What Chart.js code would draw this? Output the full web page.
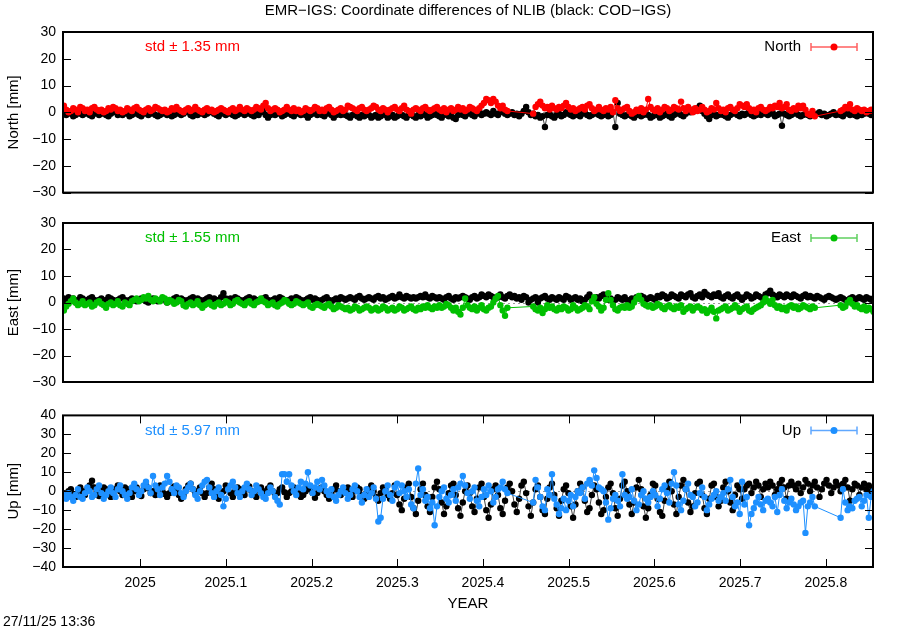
<!DOCTYPE html>
<html>
<head>
<meta charset="utf-8">
<script src="https://cdn.jsdelivr.net/npm/chart.js@4.4.1/dist/chart.umd.min.js"></script>
<style>
  body { margin: 0; background: #fff; width: 900px; height: 630px; position: relative; overflow: hidden;
         font-family: "Liberation Sans", Arial, sans-serif; }
  canvas { position: absolute; left: 0; }
  #stamp { position: absolute; left: 3px; top: 613px; font-size: 14px; color: #000; }
</style>
</head>
<body>
<canvas id="north" width="900" height="208" style="top:0px"></canvas>
<canvas id="east" width="900" height="200" style="top:200px"></canvas>
<canvas id="up" width="900" height="230" style="top:400px"></canvas>
<div id="stamp">27/11/25 13:36</div>
<script>
// first day of the series (decimal year), one value per day
const firstDay = 2024.911;
const daysPerYear = 365.25;
const xTicks = [2025, 2025.1, 2025.2, 2025.3, 2025.4, 2025.5, 2025.6, 2025.7, 2025.8];
const yTicksNE = [-30, -20, -10, 0, 10, 20, 30];
const yTicksUp = [-40, -30, -20, -10, 0, 10, 20, 30, 40];
const stdValues = ['1.35', '1.55', '5.97'];

// North [mm], black: COD-IGS
const northCOD = [
  -0.5,-1,0,-0.5,-1.5,-1,0.5,-0.5,-1,-0.5,
  0,-1,-1.5,-0.5,0.5,-1,-0.5,0,-1,-1.5,
  -0.5,0,0.5,-1,-0.5,-1,0,-0.5,-1.5,-1,
  -0.5,0,-1,-1.5,-0.5,0,-1,-0.5,0.5,-1,
  -1.5,-1,-0.5,0,-1,-0.5,-1.5,-1,0,-0.5,
  -1,-0.5,0.5,0,-1,-1.5,-0.5,-1,0,-0.5,
  -1,-0.5,0,0.5,-0.5,-1,-1.5,-0.5,0,-1,
  -0.5,0,-1,-1.5,-1,-0.5,0,-1,-0.5,0,
  -1,-1.5,-0.5,-1,0,0.5,-1,-2,-1,-0.5,
  -1,0,-0.5,-1.5,-1,-0.5,0,-1,-1.5,-0.5,
  0,-1,-0.5,-1,-2,-1,-0.5,0,-1,-0.5,
  -1,-1.5,-0.5,0,-1,-2,-1,-0.5,-1,0,
  -1,-1.5,-2,-1,-0.5,-1.5,-2,-1,-1.5,-0.5,
  -1,-2,-1.5,-1,-2,-1.5,-0.5,-1,-2,-1.5,
  -1,-2,-1.5,-0.5,-1,-1.5,-2,-1,-0.5,-1.5,
  -2,-1,-1.5,-0.5,-1,-2,-1.5,-1,-0.5,-1,
  -1.5,-2,-1,-0.5,-1.5,-1,-2,-2.5,-1,-0.5,
  -1,-1.5,-0.5,0,-1,-1.5,-0.5,0.5,-1,-0.5,
  0,-0.5,-1,0.5,-0.5,-1,0,1,-0.5,-1,
  -0.5,0,-1,-0.5,-1.5,-0.5,0.5,2,0,-1,
  -0.5,-1.5,-1,-2,-1.5,-5.5,-1,-0.5,-1.5,-2,
  -1,-0.5,-1.5,-1,0,-0.5,-1,-1.5,-0.5,-1,
  -1.5,-0.5,0,-1,-1.5,-1,-0.5,0,-1,-1.5,
  -1,-0.5,-1.5,-1,0,-5.5,3.5,-0.5,-1,-1.5,
  -1,-0.5,-1.5,-2,-1,-0.5,-1.5,-1,-0.5,-1,
  -2,-1.5,-0.5,-1,-2,-1.5,-1,-0.5,-1.5,-2,
  -1,-0.5,0,-1,-1.5,-0.5,0.5,0,1,0.5,
  1.5,2.5,0.5,-0.5,-1.5,-2.5,-1,-0.5,-1.5,-1,
  -0.5,-1,-1.5,-2,-1,-0.5,0,-1,-1.5,-0.5,
  -1,-0.5,0,-1,-1.5,-1,-0.5,-1,0,-0.5,
  -1,-0.5,0,-1.5,-1,-0.5,-5,-0.5,-1,-1.5,
  -1,-0.5,0,-1,-1.5,-1,-0.5,-1,-1.5,-0.5,
  -1,-0.5,0,-1,-0.5,-1.5,-1,-0.5,0,-1,
  -0.5,-1,-1.5,-0.5,0,-1,-0.5,-1,-1.5,-0.5,
  -1,-0.5,0,-0.5,-1,-0.5
];
// North [mm], red: EMR-IGS (null = no solution)
const northEMR = [
  2.5,1,0,0.5,1.5,1,0,2,1.5,0.5,
  1,0,1.5,2,1,0.5,1,0,0.5,1.5,
  1,2,1.5,0.5,1,0,0.5,1.5,1,0.5,
  1.5,2,1,0.5,0,1,1.5,0.5,1,2,
  1.5,1,0.5,1,0,0.5,1.5,1,2,1,
  0.5,0,1,1.5,0.5,1,2,1,0.5,0,
  1,1.5,0.5,1,0,0.5,1,1.5,1,0.5,
  0,1,1.5,0.5,1,2,1,0.5,1.5,1,
  0.5,1,2,1.5,1,2.5,3.5,1.5,0.5,1,
  1.5,1,0,0.5,1,2,1,0.5,1.5,0.5,
  1,0,0.5,1.5,1,0.5,1,2,1.5,0.5,
  1,0.5,1.5,2,1,0,0.5,1,1.5,0.5,
  1,2.5,2,1.5,1,0.5,1.5,2,1,0.5,
  1,1.5,2.5,2,1,0.5,1.5,1,0,1,
  1.5,2,1,0.5,1.5,2.5,1,0.5,-0.5,1,
  1.5,1,0.5,1.5,2,1,0.5,1,1.5,2,
  1,0.5,1.5,0,1,1.5,0.5,1,2,1,
  1.5,0.5,1,2,1.5,1,0.5,1.5,2.5,3.5,
  5,4.5,3.5,5,4,2.5,1.5,2.5,1,0.5,
  null,null,null,null,null,null,null,null,null,null,
  -0.5,2,3,4,2.5,1.5,2,1,2.5,1.5,
  1,2,1.5,2.5,3.5,2,1,1.5,0.5,1,
  1.5,2,1,2.5,3,1.5,0.5,1,2,1,
  0.5,1.5,1,2,0,4.5,1.5,0.5,1,1.5,
  2,0.5,-0.5,0,1,0.5,1.5,0,1,5,
  2,1,0.5,1.5,0,1,2,1.5,0.5,1,
  2,1.5,1,4,1.5,0.5,2,1,0,1.5,
  0.5,1,2,1,0,0.5,1.5,1,3.5,1.5,
  0.5,1,0,1.5,2,1,0.5,1.5,3,2.5,
  2,3,1.5,0.5,1,0,1.5,2,1,0.5,
  1,2,1.5,2.5,2,3.5,1.5,2,3,1,
  0.5,1.5,1,2.5,1.5,2.5,1,-0.5,-1,0.5,
  -1.5,null,null,null,null,null,null,null,null,null,
  null,0.5,1,2,1.5,3,1,0.5,1.5,1,
  0.5,1,0,0.5,1,0.5
];
// East [mm], black: COD-IGS
const eastCOD = [
  1.5,0.5,2,1,1.5,0,1,2,1.5,0.5,
  1,1.5,2,1,0.5,1,1.5,0.5,1,2,
  1.5,1,0.5,1,1.5,2,1,0.5,1,1.5,
  1,0.5,1,1.5,1,0.5,0,1,1.5,1,
  0.5,1,1.5,1,0,0.5,1,1.5,2,1,
  1.5,1,0.5,1,1.5,2,1,1.5,1,0.5,
  1,1.5,2,1,1.5,1,0.5,2,3.5,1.5,
  1,1.5,1,2,1.5,1,0.5,1,1.5,2,
  1,1.5,1,0.5,1,1.5,2,1,0.5,1,
  1.5,1,2,1.5,1,0.5,1,1.5,1,2,
  1.5,1,0.5,1,1.5,2,1,1.5,1,0.5,
  1,1.5,2,1,0.5,1,1.5,1,2,1.5,
  1,1.5,2,1.5,1,2,2.5,1.5,1,1.5,
  2,1.5,1,2,2.5,1.5,2,1,1.5,2,
  2.5,1.5,2,3,2,1.5,2.5,2,1.5,2,
  1.5,2,2.5,2,3,2,1.5,2.5,2,1.5,
  2,1.5,1,2,2.5,1.5,1,2,1.5,2,
  2.5,2,1.5,1,2,2.5,1.5,2,3,2.5,
  2,3,2.5,2,1.5,2,3,2,1.5,2.5,
  3,2,2.5,1.5,2,1,2.5,2,0,1,
  1.5,2,0,1.5,2,2.5,1.5,1,2,1.5,
  1,2,1.5,1,2.5,2,1,1.5,2,1,
  1.5,0.5,1,2,3,1.5,1,2,1.5,2.5,
  3,2,1,1.5,0.5,1,2,1.5,1,2,
  1,0,1.5,1,2,1.5,2.5,2,1,1.5,
  2,1.5,1,2.5,2,3,2.5,1.5,2,3,
  2.5,2,1.5,3,2.5,2,3,3.5,2,1.5,
  2.5,3,2,4,3,2.5,2,3,2.5,3.5,
  2,1.5,2.5,3,2,1.5,2.5,3,2,1,
  2,3,2.5,1.5,2,3,2.5,2,1.5,3,
  3.5,4.5,3,2.5,2,3,2.5,2,3,2.5,
  2,3,2.5,2,1.5,2.5,3,2,2.5,2,
  1.5,2.5,2,1.5,1,2,2.5,2,1.5,1,
  1.5,2,1.5,1,0.5,1.5,2,1,1.5,2,
  1.5,1,2,1.5,1,1.5
];
// East [mm], green: EMR-IGS
const eastEMR = [
  -3,-1.5,-0.5,0.5,1.5,0,-1,-0.5,0.5,-1,
  -0.5,0,-1.5,-1,0,0.5,-0.5,-1,-2,-0.5,
  0,-1,-0.5,0.5,-1,-1.5,0,-0.5,-1,0.5,
  1,1.5,0.5,1,2,1.5,2.5,1,0.5,1.5,
  1,0.5,2,1.5,0,1,0.5,-0.5,0,1,
  0.5,-1,-1.5,-0.5,0,-1,-0.5,0.5,-1,-2,
  -1,-0.5,0,-1,-1.5,-0.5,0,-1,-0.5,0.5,
  0,-1,-0.5,0.5,1,0,-0.5,-1,0,0.5,
  -0.5,-1,0,0.5,1.5,0.5,0,-1,-0.5,0,
  -1,-1.5,-0.5,0,1,0.5,-0.5,-1,-0.5,0.5,
  0,-0.5,-1,-0.5,0,-1.5,-2,-1,-0.5,-1,
  -1.5,-2,-1,-0.5,-1.5,-2.5,-2,-1,-1.5,-2,
  -2.5,-2,-3,-2.5,-1.5,-2,-3,-2.5,-2,-1.5,
  -2,-3,-2.5,-2,-3,-2.5,-1.5,-2,-3,-2.5,
  -2,-3,-2.5,-1.5,-2,-3,-2.5,-2,-1.5,-2.5,
  -3,-2,-2.5,-1.5,-2,-1,-2,-2.5,-1.5,-2,
  -1,-2,-1.5,-0.5,-1,-2,-3,-2,-3.5,-4.5,
  -2,1.5,-1,-2,-2.5,-1.5,-3,-2,-1,-2.5,
  -3,-2,-1.5,0,1.5,2.5,-1,-3,-5,-2,
  null,null,null,null,null,null,null,null,null,null,
  -1.5,-2.5,-3,-2,-4,-2.5,-1,-2,-1.5,-2.5,
  -3,-2,-2.5,-1.5,-2,-3,-2.5,-1,-2,-3,
  -2.5,-2,-1,-1.5,-2.5,0.5,2,-0.5,-1.5,-3,
  -2,1,3.5,1,-1,-2.5,-3,-2,-1.5,-2,
  -1,-2,-1.5,0,1.5,2.5,1,-0.5,-1,-1.5,
  -1,-2,-1.5,-0.5,-1,-2,-2.5,-1.5,-1,-2,
  -2.5,-1.5,-2,-1,-3.5,-2.5,-2,-1.5,-3,-2,
  -1.5,-2,-3,-2.5,-4,-3,-2,-3.5,-6,-3,
  -2.5,-2,-1.5,-3,-2.5,-2,-1,-2,-3.5,-2.5,
  -2,-1.5,-3,-3.5,-2.5,-2,-1.5,-1,0,1.5,
  0.5,-0.5,1,-1,-2,-1.5,-2.5,-2,-3,-1.5,
  -1,-2,-1.5,-2.5,-2,-1,-1.5,-2,-2.5,-1.5,
  -2,null,null,null,null,null,null,null,null,null,
  null,-1,-2,-1.5,0,1,-0.5,-1.5,-1,-2,
  -2.5,-1.5,-3,-2,-2.5,-3.5
];
// Up [mm], black: COD-IGS
const upCOD = [
  -1,-2,0,1,-1.5,-3,-1,2,0,-2,
  1,3,5.5,2,-1,-2.5,0,2,1,-1,
  -3,-1,1,3,0,-2,2,1,-1.5,-3,
  0,2,-1,-2.5,1,3,1.5,-1,0,-2,
  2,3,0,-1.5,-3,-1,1,2.5,0,-2,
  -4,-2,1,3,4,1,-1,0,2,-1,
  -3,-1,2,4,1,-2,-4,-1.5,0,3,
  1,-1,-3,0,2,1,-1.5,-2,1,2.5,
  0,-2,-3,1,2,0,-1,1.5,3,0,
  -2,-1,1,2,-0.5,-3,-1,0,2,1,
  -1,-3,-2,0,2.5,1,-1,-3.5,-1,1,
  2,0,-2,-4,-1,1,3,0,-2,-1,
  1,2,-1,-3,0,2,1,-2,-4,-1,
  1,3,0,-3,-5,-1,2,1,-2,-4,
  -1,3,-2,-7,-10,-4,2,4,-3,-9,
  -12,-5,1,4,-2,-8,-11,-3,2,5,
  1,-6,-12,-8,-1,3,4,-2,-9,-13,
  -6,0,3,-1,-8,-11,-4,2,4,-3,
  -10,-14,-7,1,3,-2,-9,-12,-5,2,
  4,0,-7,-11,-4,3,5,-1,-8,-13,
  -6,1,3,-3,-10,-12,-4,2,4,-2,
  -9,-13,-5,1,3,-1,-8,-14,-7,0,
  4,2,-5,-11,-9,-2,3,1,-6,-12,
  -10,-3,2,4,-1,-9,-13,-4,3,5,
  0,-7,-12,-6,2,6,1,-8,-14,-9,
  -2,4,3,-4,-11,-13,-5,2,5,0,
  -7,-12,-3,3,6,1,-6,-11,-8,-1,
  4,5,-2,-9,-12,-4,3,4,-3,-8,
  -5,2,5,0,-6,-10,-2,3,1,-4,
  1,3,4,-1,2,5,3,-3,1,4,
  2,5,3,-2,1,4,6,2,-4,3,
  5,3,1,4,-1,2,6,4,0,3,
  5,2,-3,1,4,6,3,-1,2,5,
  3,0,4,6,2,-5,1,4,3,-2,
  2,4,1,3,0,2
];
// Up [mm], blue: EMR-IGS
const upEMR = [
  -2,-4,-1,-3,-5,-2,1,-3,-4,-1,
  2,0,-3,-2,1,3,-1,-4,-2,0,
  2,-1,-3,1,3,0,-2,-4,-1,2,
  4,1,-2,0,3,5,2,-1,8,3,
  1,-2,2,4,8,5,1,-1,3,2,
  -1,-3,0,2,4,1,-2,-4,0,3,
  5,6,2,-1,-3,0,2,-2,-8,-4,
  1,3,5,2,-1,-3,0,2,4,1,
  -2,0,3,1,-1,-3,-4,-1,2,0,
  -3,-5,-7,9,9,5,9,3,0,-2,
  2,5,1,4,10,3,-1,2,5,1,
  6,3,0,-2,1,-3,-5,-2,0,2,
  -1,-4,-2,1,3,0,-3,-6,-2,1,
  -3,-1,2,-4,-16,-14,-4,0,3,-2,
  -5,2,4,-1,3,0,-3,1,-7,-9,
  4,12,-2,1,-5,-3,-9,-6,-18,-8,
  -3,0,2,-4,-6,-2,1,-5,2,4,
  8,3,-1,-4,0,2,-5,-8,-3,1,
  -2,3,0,-6,-3,1,2,5,1,-1,
  null,null,null,null,null,null,null,null,null,null,
  -6,6,2,-3,-8,-10,1,-2,9,-4,
  -7,-12,-9,-4,-10,-5,-2,-8,-3,0,
  -1,2,-4,4,6,3,11,7,2,1,
  0,-6,-15,-9,-4,-2,-5,-8,9,-2,
  -4,-3,1,-5,-10,-7,-2,0,-4,-6,
  -3,0,-2,-8,-4,1,3,-1,-6,4,
  10,3,-7,-10,-5,1,4,-2,-3,-8,
  -6,-1,2,-3,-10,-7,-4,-2,0,-5,
  -3,-1,-5,1,6,-3,-8,-6,-12,5,
  -7,-3,-18,-12,-9,-6,-3,-7,-10,-5,
  -4,-6,-8,-3,-11,-2,1,-5,-9,-6,
  -4,-7,-10,-8,-6,-5,-22,-8,-6,-3,
  -8,null,null,null,null,null,null,null,null,null,
  null,-14,1,-6,-10,-8,-9,-5,-4,-3,
  -8,-5,-2,-14,-3,0
];

const fontName = '"Liberation Sans", Arial, sans-serif';

function toPoints(values) {
  return values.map((v, i) => ({ x: firstDay + i / daysPerYear, y: v }));
}

function minusSign(v) {
  return v < 0 ? '\u2212' + Math.abs(v) : String(v);
}

// gnuplot look: frame, inward mirrored ticks, dotted zero line, std text and key
const gnuplotFrame = {
  id: 'gnuplotFrame',
  beforeDatasetsDraw(chart) {
    const { ctx, chartArea: a, scales: { y } } = chart;
    const y0 = Math.round(y.getPixelForValue(0)) + 0.5;
    ctx.save();
    ctx.strokeStyle = '#999';
    ctx.lineWidth = 1;
    ctx.setLineDash([2, 3]);
    ctx.beginPath();
    ctx.moveTo(a.left, y0);
    ctx.lineTo(a.right, y0);
    ctx.stroke();
    ctx.restore();
  },
  afterDatasetsDraw(chart, args, o) {
    const { ctx, chartArea: a, scales: { x, y } } = chart;
    ctx.save();
    ctx.strokeStyle = '#000';
    ctx.lineWidth = 1;
    ctx.beginPath();
    y.ticks.forEach(t => {
      const py = Math.round(y.getPixelForValue(t.value)) + 0.5;
      ctx.moveTo(a.left, py); ctx.lineTo(a.left + 8, py);
      ctx.moveTo(a.right, py); ctx.lineTo(a.right - 8, py);
    });
    if (o.xTicks) {
      xTicks.forEach(v => {
        const px = Math.round(x.getPixelForValue(v)) + 0.5;
        ctx.moveTo(px, a.bottom); ctx.lineTo(px, a.bottom - 8);
        ctx.moveTo(px, a.top); ctx.lineTo(px, a.top + 8);
      });
    }
    ctx.stroke();
    ctx.lineWidth = 2;
    ctx.strokeRect(a.left, a.top, a.right - a.left, a.bottom - a.top);

    ctx.font = '15px ' + fontName;
    ctx.textBaseline = 'middle';
    if (o.title) {
      ctx.fillStyle = '#000';
      ctx.textAlign = 'center';
      ctx.fillText(o.title, (a.left + a.right) / 2, 11);
    }
    const ty = a.top + 15;
    ctx.fillStyle = o.color;
    ctx.textAlign = 'left';
    ctx.fillText('std \u00b1 ' + o.std + ' mm', a.left + 82, ty);

    ctx.fillStyle = '#000';
    ctx.textAlign = 'right';
    ctx.fillText(o.key, a.right - 72, ty);
    const x1 = a.right - 62, x2 = a.right - 16, xm = (x1 + x2) / 2;
    ctx.strokeStyle = o.keyLine;
    ctx.lineWidth = 1.5;
    ctx.beginPath();
    ctx.moveTo(x1, ty); ctx.lineTo(x2, ty);
    ctx.moveTo(x1, ty - 4); ctx.lineTo(x1, ty + 4);
    ctx.moveTo(x2, ty - 4); ctx.lineTo(x2, ty + 4);
    ctx.stroke();
    ctx.fillStyle = o.color;
    ctx.beginPath();
    ctx.arc(xm, ty, 3.5, 0, Math.PI * 2);
    ctx.fill();
    ctx.restore();
  }
};

function makePanel(id, cod, emr, color, keyLine, yLabel, yTicks, key, std, pad, showX, title) {
  const ctx = document.getElementById(id).getContext('2d');
  return new Chart(ctx, {
    type: 'line',
    data: {
      datasets: [{
        label: 'EMR-IGS',
        data: toPoints(emr),
        borderColor: color,
        backgroundColor: color,
        borderWidth: 1,
        pointRadius: 3.2,
        pointBorderWidth: 0,
        pointBackgroundColor: color,
        spanGaps: true,
        tension: 0
      }, {
        label: 'COD-IGS',
        data: toPoints(cod),
        borderColor: '#444',
        backgroundColor: '#000',
        borderWidth: 1,
        pointRadius: 3.2,
        pointBorderWidth: 0,
        pointBackgroundColor: '#000',
        spanGaps: true,
        tension: 0
      }]
    },
    options: {
      responsive: false,
      animation: false,
      devicePixelRatio: 1,
      layout: { padding: { top: pad[0], right: 27, bottom: pad[1], left: 0 } },
      plugins: {
        legend: { display: false },
        tooltip: { enabled: false },
        gnuplotFrame: { color: color, keyLine: keyLine, std: std, key: key, xTicks: showX, title: title }
      },
      scales: {
        x: {
          type: 'linear',
          min: 2024.91,
          max: 2025.855,
          display: showX,
          grid: { display: false, drawTicks: false },
          border: { display: false },
          afterBuildTicks: s => { s.ticks = xTicks.map(v => ({ value: v })); },
          afterFit: s => { s.height = showX ? 50 : 0; },
          ticks: {
            padding: 8,
            color: '#000',
            font: { family: fontName, size: 14 },
            maxRotation: 0,
            autoSkip: false,
            callback: v => String(v)
          },
          title: {
            display: true,
            text: 'YEAR',
            color: '#000',
            font: { family: fontName, size: 15 },
            padding: { top: 0, bottom: 4 }
          }
        },
        y: {
          min: yTicks[0],
          max: yTicks[yTicks.length - 1],
          grid: { display: false, drawTicks: false },
          border: { display: false },
          afterBuildTicks: s => { s.ticks = yTicks.map(v => ({ value: v })); },
          afterFit: s => { s.width = 63; },
          ticks: {
            padding: 7,
            autoSkip: false,
            color: '#000',
            font: { family: fontName, size: 14 },
            callback: v => minusSign(v)
          },
          title: {
            display: true,
            text: yLabel,
            color: '#000',
            font: { family: fontName, size: 15 },
            padding: { top: 5, bottom: 0 }
          }
        }
      }
    },
    plugins: [gnuplotFrame]
  });
}

makePanel('north', northCOD, northEMR, '#ff0000', '#ff6060', 'North [mm]', yTicksNE, 'North', stdValues[0],
  [32, 0], false, 'EMR\u2212IGS: Coordinate differences of NLIB (black: COD\u2212IGS)');
makePanel('east', eastCOD, eastEMR, '#00c000', '#60d060', 'East [mm]', yTicksNE, 'East', stdValues[1],
  [23, 18], false, null);
makePanel('up', upCOD, upEMR, '#1e90ff', '#60a8ff', 'Up [mm]', yTicksUp, 'Up', stdValues[2],
  [11, 13], true, null);
</script>
</body>
</html>
